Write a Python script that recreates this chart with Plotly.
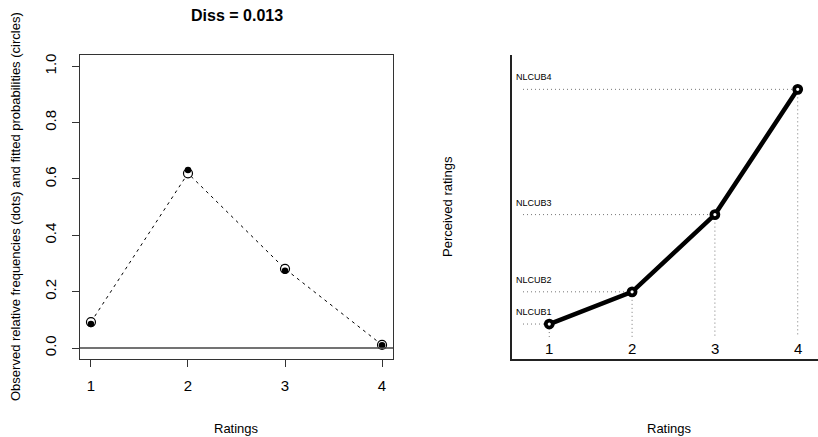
import plotly.graph_objects as go

ratings = [1, 2, 3, 4]
fitted_probs = [0.092, 0.620, 0.281, 0.011]
observed_freqs = [0.085, 0.632, 0.274, 0.010]
perceived = [0.115, 0.221, 0.475, 0.887]
perceived_labels = ["NLCUB1", "NLCUB2", "NLCUB3", "NLCUB4"]
y_ticks = [0.0, 0.2, 0.4, 0.6, 0.8, 1.0]
title_text = "Diss = 0.013"

W, H = 818, 437
FONT = "Liberation Sans, Arial, sans-serif"


def px(xp):
    return xp / W


def py(yp):
    return (H - yp) / H


fig = go.Figure()

# Left panel
fig.add_trace(go.Scatter(x=ratings, y=fitted_probs, mode="lines",
                         line=dict(color="black", width=1, dash="3px,4px"),
                         xaxis="x", yaxis="y", showlegend=False, hoverinfo="skip"))
fig.add_trace(go.Scatter(x=ratings, y=fitted_probs, mode="markers",
                         marker=dict(symbol="circle", size=9, color="white",
                                     line=dict(color="black", width=1.2)),
                         xaxis="x", yaxis="y", showlegend=False))
fig.add_trace(go.Scatter(x=ratings, y=observed_freqs, mode="markers",
                         marker=dict(symbol="circle", size=6.5, color="black"),
                         xaxis="x", yaxis="y", showlegend=False))

# Right panel
for xv, yv in zip(ratings, perceived):
    fig.add_trace(go.Scatter(x=[0.683, xv], y=[yv, yv], mode="lines",
                             line=dict(color="#777", width=1, dash="1px,3px"),
                             xaxis="x2", yaxis="y2", showlegend=False, hoverinfo="skip"))
    fig.add_trace(go.Scatter(x=[xv, xv], y=[yv, 0.072], mode="lines",
                             line=dict(color="#777", width=1, dash="1px,3px"),
                             xaxis="x2", yaxis="y2", showlegend=False, hoverinfo="skip"))
fig.add_trace(go.Scatter(x=ratings, y=perceived, mode="lines",
                         line=dict(color="black", width=4.5),
                         xaxis="x2", yaxis="y2", showlegend=False))
fig.add_trace(go.Scatter(x=ratings, y=perceived, mode="markers",
                         marker=dict(symbol="circle", size=7, color="white",
                                     line=dict(color="black", width=3.8)),
                         xaxis="x2", yaxis="y2", showlegend=False))

ydom = [py(359), py(55)]
tickfont = dict(family=FONT, size=15, color="black")

fig.update_layout(
    template="none",
    width=W, height=H,
    margin=dict(l=0, r=0, t=0, b=0, pad=0, autoexpand=False),
    paper_bgcolor="white", plot_bgcolor="white",
    font=dict(family=FONT, color="black"),
    xaxis=dict(domain=[px(80), px(393)], range=[0.887, 4.113], automargin=False,
               tickvals=ratings, ticktext=[str(r) for r in ratings],
               ticks="outside", ticklen=7, tickcolor="#333", tickwidth=1,
               showline=True, mirror=True, linecolor="#333", linewidth=1.2,
               showgrid=False, zeroline=False, tickfont=tickfont,
               ticklabelstandoff=6),
    yaxis=dict(domain=ydom, range=[-0.039, 1.04], automargin=False,
               tickvals=y_ticks, ticktext=[f"{v:.1f}" for v in y_ticks],
               tickangle=-90,
               ticks="outside", ticklen=7, tickcolor="#333", tickwidth=1,
               showline=True, mirror=True, linecolor="#333", linewidth=1.2,
               showgrid=False, zeroline=False, tickfont=tickfont,
               ticklabelstandoff=10),
    xaxis2=dict(domain=[px(512), 1.0], range=[0.55, 4.245], automargin=False,
                anchor="y2",
                showticklabels=False, ticks="",
                showline=True, linecolor="#222", linewidth=1.5,
                showgrid=False, zeroline=False),
    yaxis2=dict(domain=ydom, range=[0, 1], anchor="x2", automargin=False,
                showticklabels=False, ticks="",
                showline=True, linecolor="#222", linewidth=1.5,
                showgrid=False, zeroline=False),
)

# horizontal reference line at zero
fig.add_shape(type="line", xref="x domain", yref="y", x0=0, x1=1, y0=0, y1=0,
              line=dict(color="#444", width=1.5))


def label(text, x, y, size, angle=0, **kw):
    d = dict(text=text, x=x, y=y, xref="paper", yref="paper", showarrow=False,
             xanchor="center", yanchor="middle", textangle=angle,
             font=dict(size=size, family=FONT, color="black"))
    d.update(kw)
    return d


ann = [
    label("<b>" + title_text + "</b>", px(237), py(15), 16),
    label("Observed relative frequencies (dots) and fitted probabilities (circles)",
          px(15), py(207), 13, angle=-90),
    label("Ratings", px(237), py(428), 13),
    label("Ratings", px(669), py(428), 13),
    label("Perceived ratings", px(447), py(207), 13, angle=-90),
]
for xv in ratings:
    ann.append(dict(text=str(xv), x=xv, y=0.036, xref="x2", yref="y2 domain",
                    xanchor="center", yanchor="middle",
                    showarrow=False, font=dict(size=15, family=FONT, color="black")))
for lab, yv in zip(perceived_labels, perceived):
    ann.append(dict(text=lab, x=px(514), y=yv, xref="paper", yref="y2",
                    xanchor="left", yanchor="bottom", yshift=5,
                    showarrow=False, font=dict(size=9, family=FONT, color="black")))
fig.update_layout(annotations=ann)

fig.write_html("out.html", config={"displayModeBar": False},
               post_script="document.body.style.margin='0';document.documentElement.style.overflow='hidden';")
